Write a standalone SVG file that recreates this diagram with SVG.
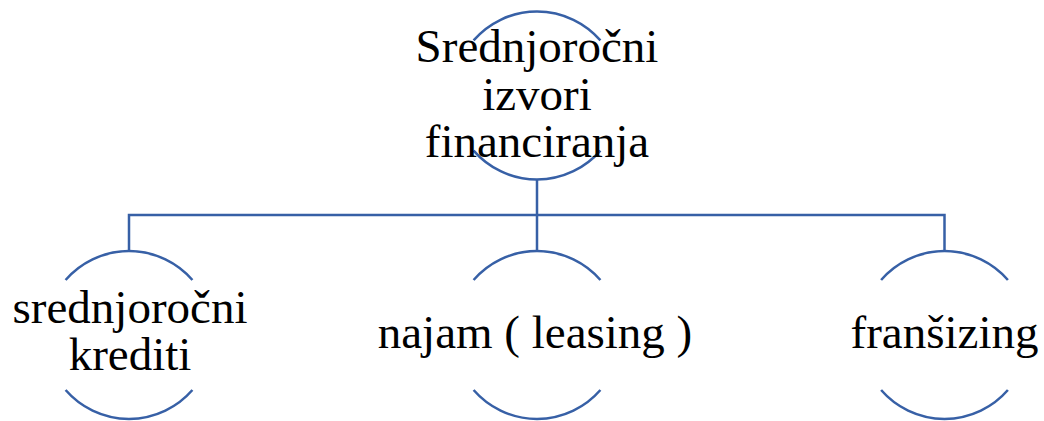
<svg xmlns="http://www.w3.org/2000/svg" width="1044" height="421" viewBox="0 0 1044 421">
<style>
.arc{fill:none;stroke:#3760A6;stroke-width:2.5}
.con{fill:none;stroke:#3760A6;stroke-width:2.5}
.t{font-size:47px;fill:#000;text-anchor:middle}
</style>
<rect width="1044" height="421" fill="#fff"/>
<g id="connectors">
<path class="con" d="M537 179.5 V251 M129 251 V215 H944.5 V251"/>
</g>
<g id="node-top" font-family="Liberation Serif, serif">
<path class="arc" d="M473.6 40.4 A84 84 0 0 1 600.4 40.4 M473.6 150.6 A84 84 0 0 0 600.4 150.6"/>
<text class="t" x="537" y="62">Srednjoročni</text>
<text class="t" x="537" y="110">izvori</text>
<text class="t" x="537" y="157">financiranja</text>
</g>
<g id="node-krediti" font-family="Liberation Serif, serif">
<path class="arc" d="M65.6 280 A84 84 0 0 1 192.4 280 M65.6 390 A84 84 0 0 0 192.4 390"/>
<text class="t" x="130" y="323">srednjoročni</text>
<text class="t" x="130" y="370">krediti</text>
</g>
<g id="node-najam" font-family="Liberation Serif, serif">
<path class="arc" d="M473.6 280 A84 84 0 0 1 600.4 280 M473.6 390 A84 84 0 0 0 600.4 390"/>
<text class="t" x="535" y="348">najam ( leasing )</text>
</g>
<g id="node-fransizing" font-family="Liberation Serif, serif">
<path class="arc" d="M881.1 280 A84 84 0 0 1 1007.9 280 M881.1 390 A84 84 0 0 0 1007.9 390"/>
<text class="t" x="944.5" y="348">franšizing</text>
</g>
</svg>
